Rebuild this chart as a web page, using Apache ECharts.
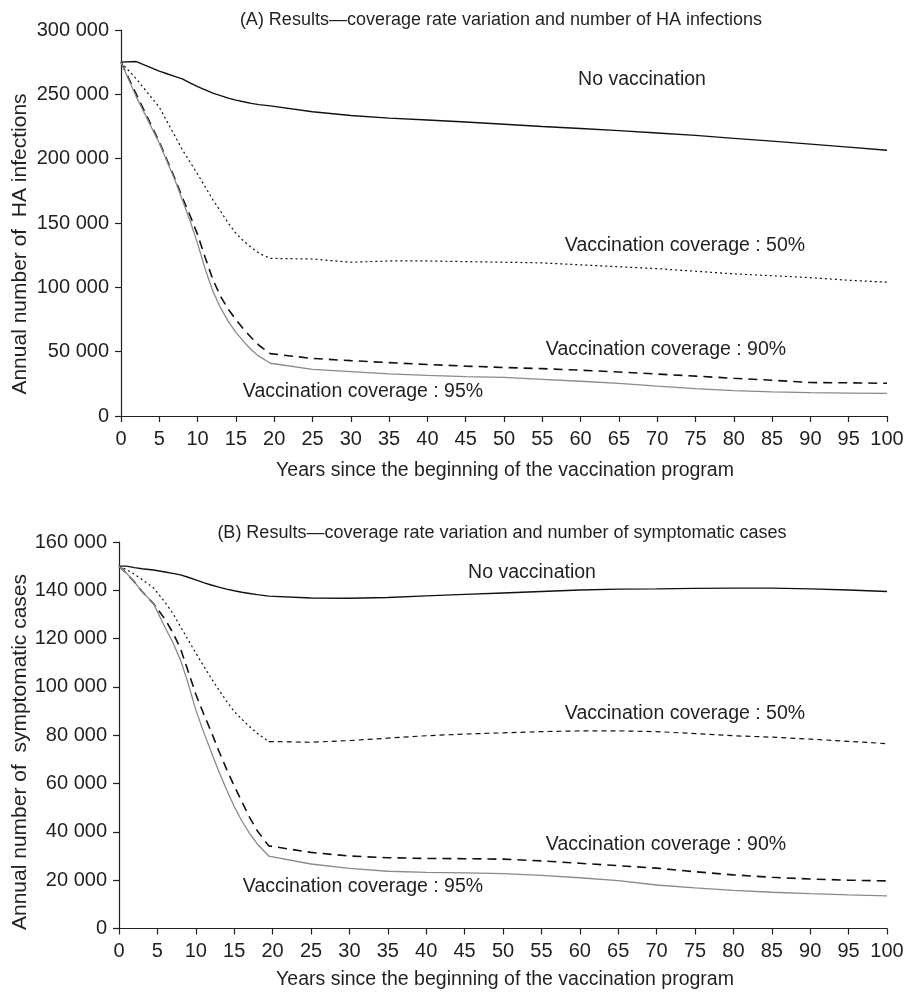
<!DOCTYPE html>
<html>
<head>
<meta charset="utf-8">
<script src="https://cdn.jsdelivr.net/npm/echarts@6/dist/echarts.min.js"></script>
<style>html,body{margin:0;padding:0;background:#fff;}#c{width:907px;height:994px;}</style>
</head>
<body>
<div id="c"></div>
<script>
// ---------- Data: panel A (HA infections) ----------
const yearsA  = [0, 2, 5, 6, 7, 8, 9, 10, 11, 12, 13, 14, 15, 16, 17, 18, 19.5, 25, 30, 35, 40, 45, 50, 55, 60, 65, 70, 75, 80, 85, 90, 95, 100];
const noVaccA = [275000, 275500, 268000, 266000, 264000, 262000, 259000, 256000, 253500, 251000, 249000, 247000, 245500, 244200, 243000, 242000, 241000, 236500, 233500, 231500, 230000, 228500, 226800, 225000, 223400, 221800, 220000, 218100, 215800, 213600, 211300, 209000, 206500];
const cov50A  = [275000, 262000, 240000, 229000, 218000, 207000, 197500, 188000, 178000, 168000, 159000, 150000, 142000, 136000, 131000, 126500, 122500, 122000, 119500, 120500, 120500, 120000, 119500, 119000, 117500, 116000, 114500, 112500, 110500, 109000, 107500, 105500, 104000];
const cov90A  = [275000, 250000, 213000, 199000, 185000, 170000, 156000, 141000, 123000, 106000, 93000, 83000, 75000, 67500, 61000, 55000, 48500, 44700, 43000, 41500, 40000, 38800, 37700, 36800, 35600, 34200, 32600, 31000, 29300, 27800, 26000, 25800, 25400];
const cov95A  = [275000, 248000, 212000, 198000, 184000, 168000, 152000, 134000, 114000, 97000, 84000, 73500, 65000, 58000, 51500, 46500, 41000, 36300, 34500, 32700, 31500, 30600, 30000, 28500, 27000, 25300, 23200, 21300, 19700, 18800, 18100, 17800, 17600];

// ---------- Data: panel B (symptomatic cases) ----------
const yearsB  = [0, 1, 2, 3, 4.5, 6, 7, 8, 9, 10, 11, 12, 13, 14, 15, 16, 17, 18, 19.5, 25, 30, 35, 40, 45, 50, 55, 60, 65, 70, 75, 80, 85, 90, 95, 100];
const noVaccB = [150000, 150000, 149400, 148900, 148400, 147600, 147000, 146400, 145400, 144300, 143200, 142200, 141300, 140500, 139800, 139200, 138700, 138200, 137600, 136800, 136700, 137000, 137700, 138300, 138900, 139500, 140100, 140500, 140600, 140800, 140900, 140900, 140600, 140100, 139500];
const cov50B  = [150000, 148500, 146700, 144500, 141000, 135000, 130500, 125000, 119500, 114000, 108800, 103600, 98800, 94100, 89800, 86600, 83600, 80800, 77400, 77100, 77800, 78800, 79800, 80500, 81000, 81500, 81800, 81800, 81500, 80700, 79800, 79200, 78400, 77500, 76500];
const cov90B  = [150000, 147000, 143500, 139500, 134500, 128000, 122500, 116000, 106500, 97000, 89000, 81500, 73500, 66000, 59000, 52500, 46000, 40500, 34200, 31500, 30000, 29300, 29000, 28900, 28700, 28000, 27000, 26000, 25000, 23500, 22200, 21200, 20500, 20000, 19700];
const cov95B  = [150000, 147000, 143500, 139500, 134500, 124600, 118500, 111200, 101500, 90500, 81500, 73200, 65000, 57500, 50500, 44500, 39400, 35000, 30000, 26700, 24900, 23700, 23200, 23000, 22700, 22000, 21000, 19800, 18000, 16800, 15800, 15000, 14400, 13900, 13500];

// ---------- Text ----------
const titleA = '(A) Results\u2014coverage rate variation and number of HA infections';
const titleB = '(B) Results\u2014coverage rate variation and number of symptomatic cases';
const yNameA = 'Annual number of  HA infections';
const yNameB = 'Annual number of  symptomatic cases';
const xName  = 'Years since the beginning of the vaccination program';
const labNo  = 'No vaccination';
const lab50  = 'Vaccination coverage : 50%';
const lab90  = 'Vaccination coverage : 90%';
const lab95  = 'Vaccination coverage : 95%';

const zip = (xs, ys) => xs.map((x, i) => [x, ys[i]]);
const FONT = '"Liberation Sans", Arial, Helvetica, sans-serif';
const TXT = '#231f20';
const fmt = v => v === 0 ? '0' : String(v).replace(/\B(?=(\d{3})+(?!\d))/g, ' ');

function xAxisCfg(gi) {
  return {
    type: 'value', gridIndex: gi, min: 0, max: 100, interval: 5,
    axisLine: { show: true, lineStyle: { color: TXT, width: 1.2 } },
    axisTick: { show: true, length: 6, lineStyle: { color: TXT, width: 1.2 } },
    axisLabel: { color: TXT, fontSize: 20, fontFamily: FONT, margin: 13 },
    splitLine: { show: false }
  };
}
function yAxisCfg(gi, max, interval) {
  return {
    type: 'value', gridIndex: gi, min: 0, max: max, interval: interval,
    axisLine: { show: true, lineStyle: { color: TXT, width: 1.2 } },
    axisTick: { show: true, length: 6, lineStyle: { color: TXT, width: 1.2 } },
    axisLabel: { color: TXT, fontSize: 20, fontFamily: FONT, margin: 12, formatter: fmt },
    splitLine: { show: false }
  };
}
function line(name, xi, data, style) {
  return {
    name: name, type: 'line', xAxisIndex: xi, yAxisIndex: xi, data: data,
    symbol: 'none', smooth: false, silent: true, animation: false,
    lineStyle: style
  };
}
const sNo  = { color: '#111', width: 1.4, type: 'solid' };
const sDot = { color: '#111', width: 1.2, type: [2, 3] };
const sDsh = { color: '#111', width: 1.6, type: [9, 6] };
const sShortDsh = { color: '#111', width: 1.2, type: [5, 4] };
const s95  = { color: '#8a8a8a', width: 1.3, type: 'solid' };

const cut = 19.5;
const cov50Bpts = zip(yearsB, cov50B);

function txt(text, x, y, size, rot) {
  return {
    type: 'text', x: x, y: y, rotation: rot || 0,
    style: { text: text, fill: TXT, font: size + 'px ' + FONT, align: 'center', verticalAlign: 'middle' }
  };
}

const option = {
  animation: false,
  backgroundColor: '#fff',
  grid: [
    { left: 121, right: 20, top: 30, height: 386 },
    { left: 119, right: 20, top: 542, height: 386.5 }
  ],
  xAxis: [xAxisCfg(0), xAxisCfg(1)],
  yAxis: [yAxisCfg(0, 300000, 50000), yAxisCfg(1, 160000, 20000)],
  series: [
    line(labNo, 0, zip(yearsA, noVaccA), sNo),
    line(lab50, 0, zip(yearsA, cov50A), sDot),
    line(lab90, 0, zip(yearsA, cov90A), sDsh),
    line(lab95, 0, zip(yearsA, cov95A), s95),
    line(labNo, 1, zip(yearsB, noVaccB), sNo),
    line(lab50, 1, cov50Bpts.filter(p => p[0] <= cut), sDot),
    line(lab50, 1, cov50Bpts.filter(p => p[0] >= cut), sShortDsh),
    line(lab90, 1, zip(yearsB, cov90B), sDsh),
    line(lab95, 1, zip(yearsB, cov95B), s95)
  ],
  graphic: [
    txt(titleA, 501, 20, 18),
    txt(labNo, 642, 80, 19.5),
    txt(lab50, 685, 246, 19.5),
    txt(lab90, 666, 350, 19.5),
    txt(lab95, 363, 392, 19.5),
    txt(yNameA, 20, 244, 21, Math.PI / 2),
    txt(xName, 505, 471, 19.5),
    txt(titleB, 502, 533, 18),
    txt(labNo, 532, 573, 19.5),
    txt(lab50, 685, 714, 19.5),
    txt(lab90, 666, 845, 19.5),
    txt(lab95, 363, 887, 19.5),
    txt(yNameB, 20, 752, 21, Math.PI / 2),
    txt(xName, 505, 980, 19.5)
  ]
};

const chart = echarts.init(document.getElementById('c'), null, { renderer: 'canvas' });
chart.setOption(option);
</script>
</body>
</html>
